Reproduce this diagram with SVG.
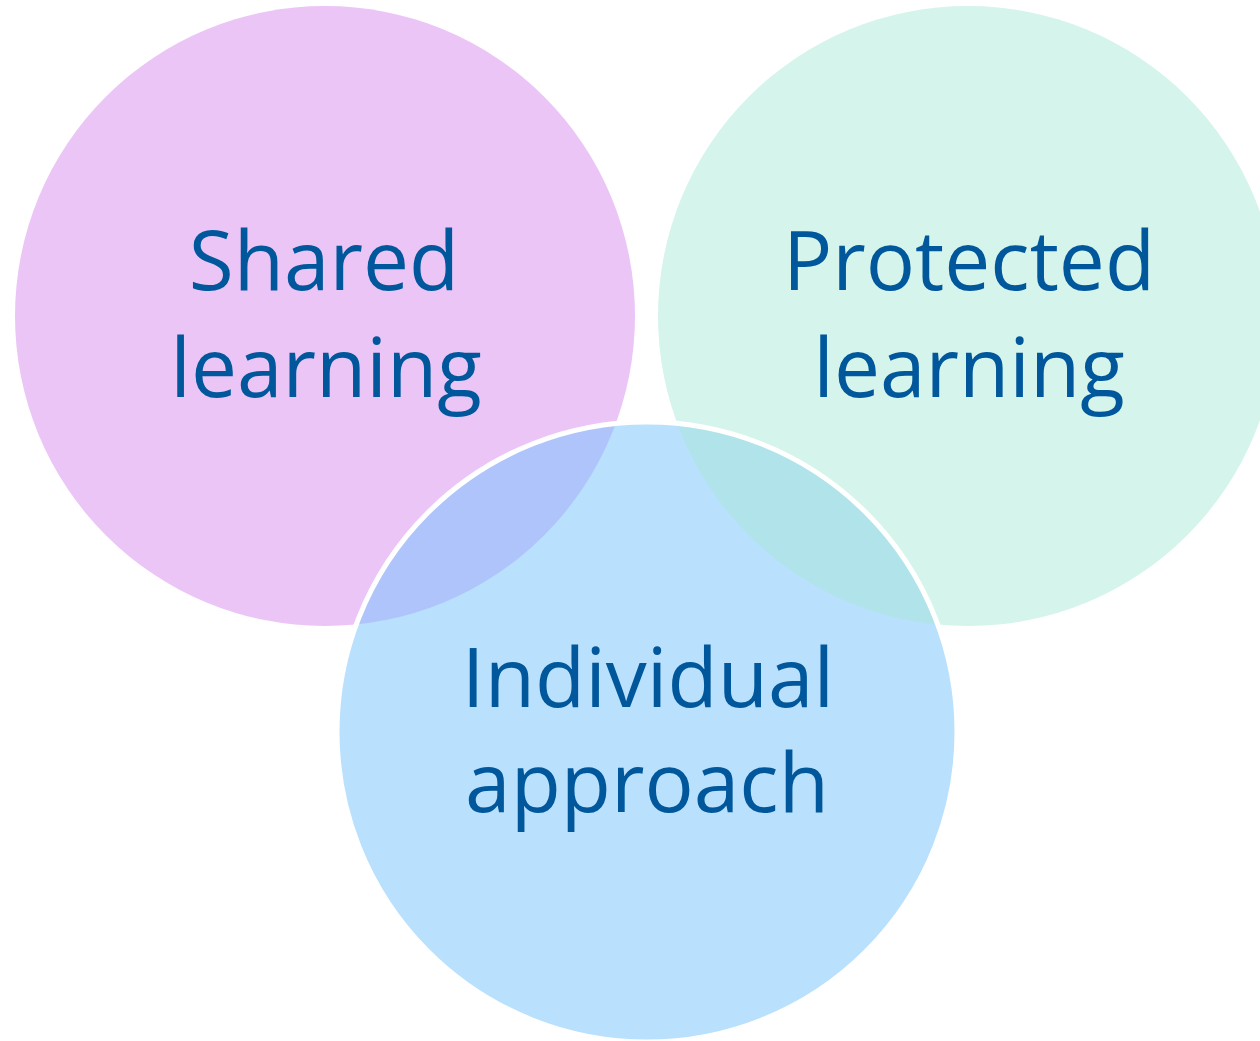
<svg xmlns="http://www.w3.org/2000/svg" width="1260" height="1041" viewBox="0 0 1260 1041">
  <style>
    .lbl { font-family: "Open Sans", "Noto Sans", "Liberation Sans", sans-serif; font-size: 82px; fill: #01579B; text-anchor: middle; }
  </style>
  <defs>
    <clipPath id="blueClip">
      <circle cx="647" cy="732" r="310"/>
    </clipPath>
  </defs>
  <rect width="1260" height="1041" fill="#FFFFFF"/>
  <g id="shared-learning">
    <circle cx="325" cy="316" r="310" fill="#ECC5F7"/>
  </g>
  <g id="protected-learning">
    <circle cx="968" cy="316" r="310" fill="#D5F4EC"/>
  </g>
  <g id="individual-approach">
    <circle cx="647" cy="732" r="310" fill="#B9E0FD"/>
    <g clip-path="url(#blueClip)">
      <circle cx="325" cy="316" r="310" fill="#AFC4FA"/>
      <circle cx="968" cy="316" r="310" fill="#B1E4EA"/>
    </g>
    <circle cx="647" cy="732" r="310" fill="none" stroke="#FFFFFF" stroke-width="5"/>
  </g>
  <g id="labels">
    <text class="lbl" x="324" y="290">Shared</text>
    <text class="lbl" x="326" y="397">learning</text>
    <text class="lbl" x="969" y="290">Protected</text>
    <text class="lbl" x="969" y="397">learning</text>
    <text class="lbl" x="648" y="707">Individual</text>
    <text class="lbl" x="647" y="812">approach</text>
  </g>
</svg>
